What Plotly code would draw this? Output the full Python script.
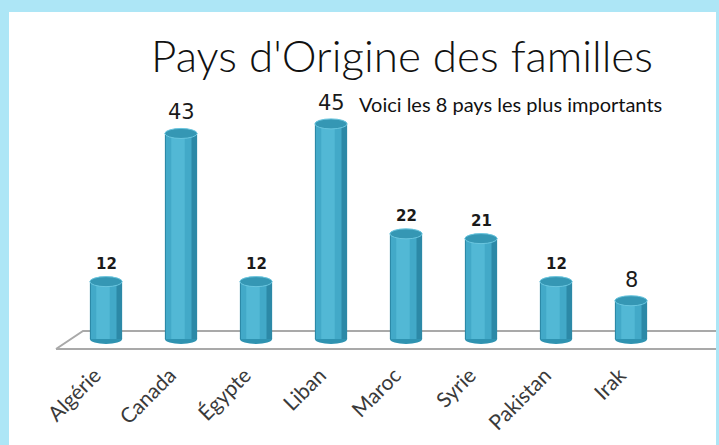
import plotly.graph_objects as go

# ---- data ----
categories = ["Algérie", "Canada", "Égypte", "Liban", "Maroc", "Syrie", "Pakistan", "Irak"]
familles = [12, 43, 12, 45, 22, 21, 12, 8]
titre = "Pays d'Origine des familles"
note = "Voici les 8 pays les plus importants"

# label styles (as rendered in the original picture)
label_sizes = [15, 21, 15, 21, 15, 15, 15, 21]
label_bold = [True, False, True, False, True, True, True, False]

# ---- geometry (pixels) ----
W, H = 719, 445
ML, MR, MT, MB = 61, 0, 90, 90
PW, PH = W - ML - MR, H - MT - MB


def px(x):
    return (x - ML) / PW


def py(y):
    return (H - MB - y) / PH


idx = list(range(len(categories)))
BW = 0.43
ELL = 1.05

fig = go.Figure()
# cylinder body, layered for shading
fig.add_trace(go.Bar(x=idx, y=familles, width=BW, offset=-BW / 2,
                     marker=dict(color="#2c89a7", line=dict(width=0)), hoverinfo="skip"))
fig.add_trace(go.Bar(x=idx, y=familles, width=0.34, offset=-0.20,
                     marker=dict(color="#42a9c8", line=dict(width=0)), hoverinfo="skip"))
fig.add_trace(go.Bar(x=idx, y=familles, width=0.18, offset=-0.13,
                     marker=dict(color="#52b8d5", line=dict(width=0)),
                     hovertext=categories, hoverinfo="text+y"))

shapes = []
# blue frame
shapes.append(dict(type="rect", xref="paper", yref="paper", x0=px(-5), x1=px(W + 5), y0=py(H + 5), y1=py(-5),
                   fillcolor="#ade6f6", line=dict(width=0), layer="below"))
shapes.append(dict(type="rect", xref="paper", yref="paper", x0=px(9), x1=px(W - 3), y0=py(H + 5), y1=py(12),
                   fillcolor="#ffffff", line=dict(width=0), layer="below"))
# floor
floor = (f"M {px(56)} {py(349)} L {px(83)} {py(331)} L {px(W - 3)} {py(331)} "
         f"M {px(56)} {py(349)} L {px(W - 3)} {py(349)}")
shapes.append(dict(type="path", xref="paper", yref="paper", path=floor,
                   line=dict(color="#a9a9a9", width=2), layer="below"))

for i, v in zip(idx, familles):
    # bottom
    shapes.append(dict(type="circle", xref="x", yref="y", x0=i - BW / 2, x1=i + BW / 2,
                       y0=-ELL, y1=ELL, fillcolor="#2f93b1", line=dict(width=0), layer="below"))
    # top
    shapes.append(dict(type="circle", xref="x", yref="y", x0=i - BW / 2, x1=i + BW / 2,
                       y0=v - ELL, y1=v + ELL, fillcolor="#3597b4",
                       line=dict(color="#6ac6df", width=1), layer="above"))

annotations = []
for i, v, s, b in zip(idx, familles, label_sizes, label_bold):
    annotations.append(dict(x=i, y=v, xref="x", yref="y", text=str(v), showarrow=False,
                            yanchor="bottom", yshift=7,
                            font=dict(family="DejaVu Sans", size=s, color="#1a1a1a",
                                      weight="bold" if b else "normal")))
annotations.append(dict(x=px(357), y=py(104), xref="paper", yref="paper", text=note,
                        showarrow=False, xanchor="left", yanchor="middle",
                        font=dict(family="Lato", size=20, color="#111111")))

fig.update_layout(
    width=W, height=H,
    margin=dict(l=ML, r=MR, t=MT, b=MB, autoexpand=False),
    paper_bgcolor="#ffffff", plot_bgcolor="rgba(0,0,0,0)",
    barmode="overlay", showlegend=False,
    title=dict(text=titre, xref="container", yref="container", x=402 / W, y=1 - 57 / H,
               xanchor="center", yanchor="middle",
               font=dict(family="Lato", size=44, color="#111111", weight=300)),
    shapes=shapes, annotations=annotations,
    xaxis=dict(range=[-0.6, -0.6 + PW / 75], tickmode="array", tickvals=idx, ticktext=categories,
               tickangle=-45, showgrid=False, zeroline=False, showline=False, ticks="",
               automargin=False, ticklabelshift=-11, ticklabelstandoff=3,
               tickfont=dict(family="Lato", size=21, color="#3a3a3a")),
    yaxis=dict(range=[-(H - MB - 339) / 4.78, (339 - MT) / 4.78], visible=False, showgrid=False,
               automargin=False),
)

fig.write_html("out.html", config={"displayModeBar": False},
               post_script="document.body.style.margin='0';document.body.style.overflow='hidden';")
